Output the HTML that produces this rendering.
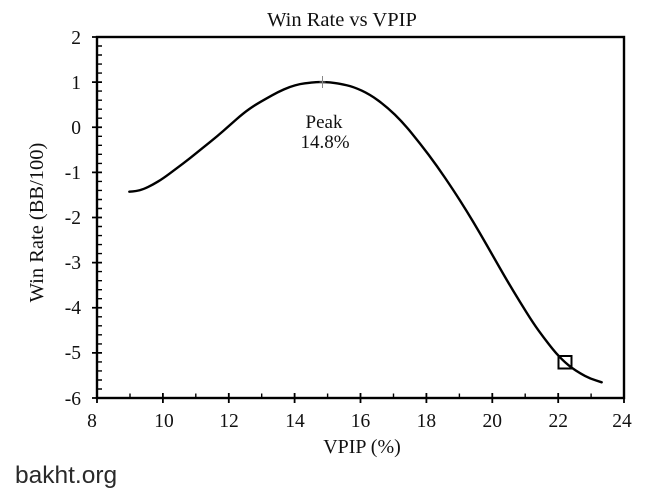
<!DOCTYPE html>
<html>
<head>
<meta charset="utf-8">
<style>
html,body{margin:0;padding:0;background:#fff}
body{width:650px;height:498px;overflow:hidden}
svg{display:block}
.t{font-family:"Liberation Serif","Times New Roman",serif;fill:#111}
</style>
</head>
<body>
<svg width="650" height="498" viewBox="0 0 650 498" xmlns="http://www.w3.org/2000/svg">
<rect width="650" height="498" fill="#fff"/>
<text class="t" x="342" y="26" font-size="20.5" text-anchor="middle">Win Rate vs VPIP</text>
<rect x="97" y="37" width="527" height="361" fill="none" stroke="#000" stroke-width="2.4"/>
<path stroke="#000" stroke-width="1.8" d="M92 37H102M92 82.1H102M92 127.25H102M92 172.4H102M92 217.5H102M92 262.6H102M92 307.75H102M92 352.9H102M92 398H102"/>
<path stroke="#000" stroke-width="1.4" d="M97 46H102M97 55H102M97 64.1H102M97 73.1H102M97 91.1H102M97 100.2H102M97 109.2H102M97 118.2H102M97 136.3H102M97 145.3H102M97 154.3H102M97 163.4H102M97 181.4H102M97 190.4H102M97 199.5H102M97 208.5H102M97 226.5H102M97 235.6H102M97 244.6H102M97 253.6H102M97 271.6H102M97 280.7H102M97 289.7H102M97 298.7H102M97 316.8H102M97 325.8H102M97 334.8H102M97 343.9H102M97 361.9H102M97 370.9H102M97 380H102M97 389H102"/>
<path stroke="#000" stroke-width="1.8" d="M97 393V403M162.9 393V403M228.8 393V403M294.6 393V403M360.5 393V403M426.4 393V403M492.3 393V403M558.2 393V403M624 393V403"/>
<path stroke="#000" stroke-width="1.4" d="M130 393.5V398M195.8 393.5V398M261.7 393.5V398M327.6 393.5V398M393.5 393.5V398M459.4 393.5V398M525.2 393.5V398M591.1 393.5V398"/>
<g class="t" font-size="19.5" text-anchor="end">
<text x="81" y="44">2</text><text x="81" y="89">1</text><text x="81" y="134">0</text><text x="81" y="179">-1</text><text x="81" y="224">-2</text><text x="81" y="269">-3</text><text x="81" y="314">-4</text><text x="81" y="359">-5</text><text x="81" y="405">-6</text>
</g>
<g class="t" font-size="19.5" text-anchor="middle">
<text x="92" y="427">8</text><text x="164" y="427">10</text><text x="229" y="427">12</text><text x="295" y="427">14</text><text x="360.5" y="427">16</text><text x="426.4" y="427">18</text><text x="492.3" y="427">20</text><text x="558.2" y="427">22</text><text x="622" y="427">24</text>
</g>
<text class="t" x="362" y="453" font-size="20" text-anchor="middle">VPIP (%)</text>
<text class="t" x="0" y="0" font-size="20.5" text-anchor="middle" transform="translate(43,222.5) rotate(-90)">Win Rate (BB/100)</text>
<path fill="none" stroke="#000" stroke-width="2.4" stroke-linejoin="round" stroke-linecap="round" d="M129.3,191.7 L132.65,191.45 Q136,191.2 139.65,190.25 Q143.3,189.3 148.15,186.95 Q153,184.6 158.15,181.45 Q163.3,178.3 169.65,173.55 Q176,168.8 183,163.55 Q190,158.3 196.5,152.95 Q203,147.6 209.85,142.15 Q216.7,136.7 223.35,130.85 Q230,125 236.65,119.15 Q243.3,113.3 249.15,109.15 Q255,105 260.85,101.65 Q266.7,98.3 272.35,95.15 Q278,92 284,89.35 Q290,86.7 295,85.35 Q300,84 305,83.35 Q310,82.7 313,82.4 Q316,82.1 319,82.05 Q322,82 326,82.15 Q330,82.3 335,83.05 Q340,83.8 346.65,85.25 Q353.3,86.7 361.65,90.6 Q370,94.5 378.35,100.6 Q386.7,106.7 394.85,114.65 Q403,122.6 411.5,132.95 Q420,143.3 428.5,154.65 Q437,166 445.15,178 Q453.3,190 460.15,200.75 Q467,211.5 473.5,222.4 Q480,233.3 486.5,244.65 Q493,256 499.85,268 Q506.7,280 513.35,291 Q520,302 526.65,312.65 Q533.3,323.3 538.4,330.3 Q543.5,337.3 548.4,343.65 Q553.3,350 556.4,353.4 Q559.5,356.8 562.25,359.55 Q565,362.3 568.5,365.15 Q572,368 576,370.65 Q580,373.3 585,375.9 Q590,378.5 595.85,380.4 L601.7,382.3"/>
<path stroke="#888" stroke-width="1" d="M322.5 76V88"/>
<path stroke="#999" stroke-width="0.8" d="M319.5 82H325.5"/>
<text class="t" x="324" y="128" font-size="19" text-anchor="middle" fill="#222">Peak</text>
<text class="t" x="325" y="148" font-size="19" text-anchor="middle" fill="#222">14.8%</text>
<rect x="558.5" y="356" width="13" height="12.5" fill="none" stroke="#000" stroke-width="2"/>
<text x="15" y="483" font-family="'Liberation Sans',Arial,sans-serif" font-size="24.5" fill="#2a2a2a">bakht.org</text>
</svg>
</body>
</html>
